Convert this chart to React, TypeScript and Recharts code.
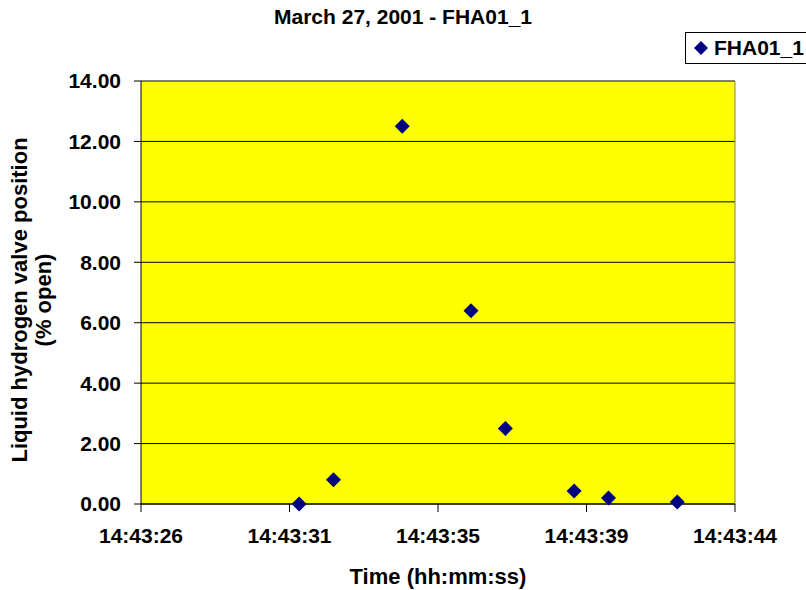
import React from "react";
import {
   ScatterChart,
   Scatter,
   XAxis,
   YAxis,
   CartesianGrid,
   ReferenceLine,
   Legend,
   Label,
} from "recharts";

// seconds after 14:43:00
const timeSec = [31, 32, 34, 36, 37, 39, 40, 42];
const valvePct = [0.0, 0.8, 12.5, 6.4, 2.5, 0.43, 0.2, 0.07];

const xTicks = [26.4, 30.72, 35.04, 39.36, 43.68];
const xTickLabels = ["14:43:26", "14:43:31", "14:43:35", "14:43:39", "14:43:44"];
const yTicks = [0, 2, 4, 6, 8, 10, 12, 14];

const seriesName = "FHA01_1";
const title = "March 27, 2001 - FHA01_1";

const FONT = "'Liberation Sans', Arial, sans-serif";

const data = timeSec.map(function (t, i) {
   return { t: t, v: valvePct[i] };
});

const Diamond = function (props: any) {
   const { cx, cy } = props;
   if (cx == null || cy == null) return null;
   const r = 7.5;
   return (
      <polygon
         points={`${cx},${cy - r} ${cx + r},${cy} ${cx},${cy + r} ${cx - r},${cy}`}
         fill="#000080"
      />
   );
};

const LegendBox = function () {
   return (
      <div
         style={{
            border: "1px solid #000",
            background: "#fff",
            padding: "3px 6px 3px 8px",
            display: "flex",
            alignItems: "center",
            fontFamily: FONT,
            fontWeight: "bold",
            fontSize: 21,
            color: "#000",
            whiteSpace: "nowrap",
         }}
      >
         <svg width={14} height={14} style={{ marginRight: 6 }}>
            <polygon points="7,0 14,7 7,14 0,7" fill="#000080" />
         </svg>
         {seriesName}
      </div>
   );
};

const YLabel = function () {
   return (
      <g
         fontFamily={FONT}
         fontWeight="bold"
         fontSize={22}
         fill="#000"
         textAnchor="middle"
      >
         <text transform="translate(27,300) rotate(-90)">
            Liquid hydrogen valve position
         </text>
         <text transform="translate(51,300) rotate(-90)">(% open)</text>
      </g>
   );
};

export default function App() {
   return (
      <div
         style={{
            position: "absolute",
            left: 0,
            top: 0,
            width: 806,
            height: 590,
            background: "#fff",
         }}
      >
         <div
            style={{
               position: "absolute",
               top: 5,
               left: 0,
               width: 806,
               textAlign: "center",
               fontFamily: FONT,
               fontWeight: "bold",
               fontSize: 21,
               color: "#000",
            }}
         >
            {title}
         </div>
         <ScatterChart
            width={806}
            height={590}
            margin={{ top: 81, right: 71, bottom: 0, left: 0 }}
         >
            <CartesianGrid
               vertical={false}
               fill="#FFFF00"
               fillOpacity={1}
               stroke="#000"
               horizontalValues={yTicks}
            />
            <XAxis
               type="number"
               dataKey="t"
               domain={[xTicks[0], xTicks[xTicks.length - 1]]}
               ticks={xTicks}
               allowDataOverflow
               height={86}
               tickSize={8}
               tickMargin={16}
               axisLine={{ stroke: "#000" }}
               tickLine={{ stroke: "#000" }}
               tick={{
                  fill: "#000",
                  fontFamily: FONT,
                  fontWeight: "bold",
                  fontSize: 21,
               }}
               tickFormatter={function (v: number) {
                  const i = xTicks.indexOf(v);
                  return i >= 0 ? xTickLabels[i] : "";
               }}
            >
               <Label
                  value="Time (hh:mm:ss)"
                  position="insideBottom"
                  offset={6}
                  style={{
                     fill: "#000",
                     fontFamily: FONT,
                     fontWeight: "bold",
                     fontSize: 22,
                  }}
               />
            </XAxis>
            <YAxis
               type="number"
               dataKey="v"
               domain={[0, 14]}
               ticks={yTicks}
               width={141}
               tickSize={7}
               tickMargin={13}
               axisLine={{ stroke: "#000" }}
               tickLine={{ stroke: "#000" }}
               tick={{
                  fill: "#000",
                  fontFamily: FONT,
                  fontWeight: "bold",
                  fontSize: 21,
               }}
               tickFormatter={function (v: number) {
                  return v.toFixed(2);
               }}
               label={{ content: YLabel }}
            />
            <ReferenceLine y={14} stroke="#808080" />
            <ReferenceLine x={xTicks[xTicks.length - 1]} stroke="#808080" />
            <Legend
               layout="vertical"
               align="center"
               verticalAlign="middle"
               content={LegendBox}
               wrapperStyle={{ position: "absolute", left: 685, top: 32, width: "auto" }}
            />
            <Scatter
               name={seriesName}
               data={data}
               shape={Diamond}
               isAnimationActive={false}
            />
         </ScatterChart>
      </div>
   );
}
